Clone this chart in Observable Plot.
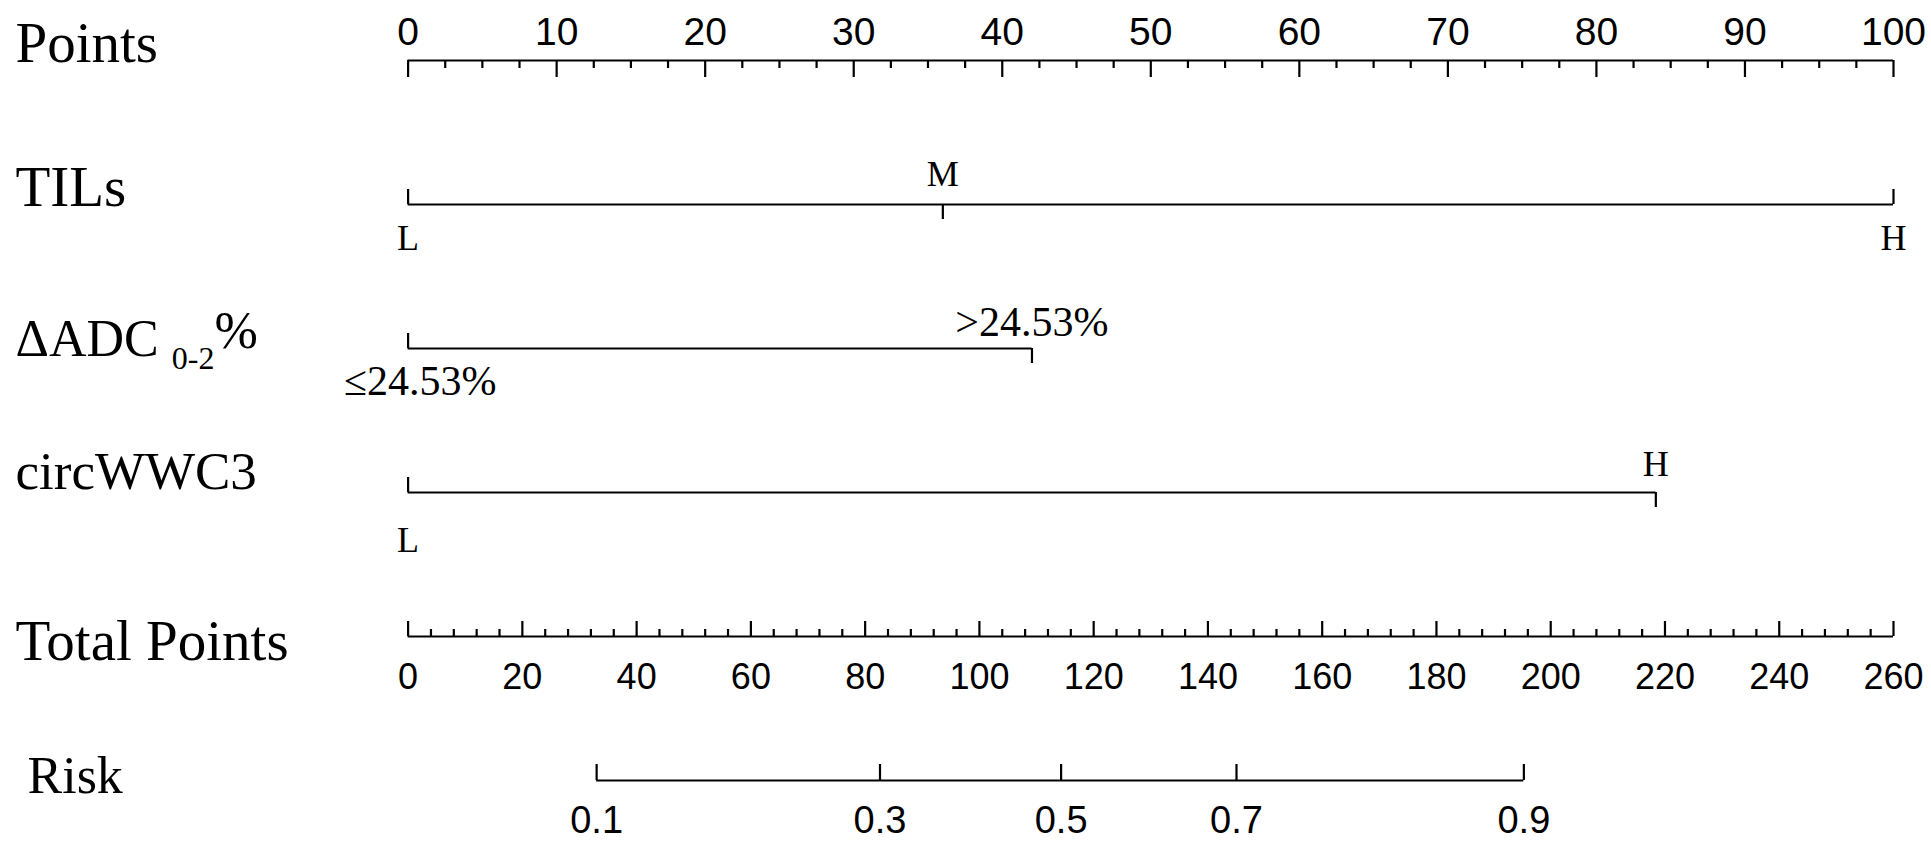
<!DOCTYPE html>
<html><head><meta charset="utf-8">
<script src="https://cdn.jsdelivr.net/npm/d3@7"></script>
<script src="https://cdn.jsdelivr.net/npm/@observablehq/plot@0.6"></script>
<style>html,body{margin:0;padding:0;background:#fff} #chart svg{display:block}</style>
</head><body><div id="chart"></div>
<script>
// ---- data ----
const rows = ["Points", "TILs", "ΔADC 0-2%", "circWWC3", "Total Points", "Risk"];
const pointsTicks = [0, 10, 20, 30, 40, 50, 60, 70, 80, 90, 100];
const pointsMinorStep = 2.5;
const tilsLevels = ["L", "M", "H"];
const tilsPoints = [0, 36, 100];
const adcLevels = ["≤24.53%", ">24.53%"];
const adcPoints = [0, 42];
const circLevels = ["L", "H"];
const circPoints = [0, 84];
const totalTicks = [0, 20, 40, 60, 80, 100, 120, 140, 160, 180, 200, 220, 240, 260];
const totalMinorStep = 4;
const totalMax = 260;
const riskLabels = ["0.1", "0.3", "0.5", "0.7", "0.9"];
const riskTotal = [33.0, 82.6, 114.3, 145, 195.3];

// ---- layout (styling only) ----
const rowLabelDy = {"Points": -17, "TILs": -17, "ΔADC 0-2%": -9, "circWWC3": -20, "Total Points": 5, "Risk": -4};
const rowLabelDx = {"Risk": 12};
const rowLabelSize = {"ΔADC 0-2%": 52, "circWWC3": 53, "Risk": 52};
const belowDy = {"TILs": 34, "ΔADC 0-2%": 33, "circWWC3": 48};
const aboveDy = {"TILs": -30, "ΔADC 0-2%": -26, "circWWC3": -28};
const levelFont = {"TILs": 36, "ΔADC 0-2%": 42, "circWWC3": 36};

// ---- derived tables ----
const variables = [
  {row: "TILs", levels: tilsLevels, points: tilsPoints},
  {row: "ΔADC 0-2%", levels: adcLevels, points: adcPoints},
  {row: "circWWC3", levels: circLevels, points: circPoints}
];
const levelRows = variables.flatMap(v => v.levels.map((label, i) => ({row: v.row, label, pts: v.points[i], i})));
const below = levelRows.filter(d => d.i % 2 === 0);
const above = levelRows.filter(d => d.i % 2 === 1);
const toPts = t => t * 100 / totalMax;
const pointsMinor = d3.range(0, 100 + 1e-9, pointsMinorStep).filter(v => !pointsTicks.includes(v));
const totalMinor = d3.range(0, totalMax + 1e-9, totalMinorStep).filter(v => !totalTicks.includes(v));
const risk = riskLabels.map((label, i) => ({label, t: riskTotal[i]}));

const serif = "Liberation Serif, Times New Roman, serif";
const sans = "Liberation Sans, Arial, sans-serif";
const sw = 2.2;
const k = "#000";

const levelText = (data, dyMap) => data.map(d => Plot.text([d], {
  x: "pts", y: "row", text: "label",
  dy: dyMap[d.row], dx: d.label.startsWith("≤") ? 12 : 0,
  fontFamily: serif, fontSize: levelFont[d.row], fill: k
}));

const rowLabels = rows.map(r => Plot.text([r], {
  y: d => d, text: d => d, frameAnchor: "left", textAnchor: "start",
  dx: rowLabelDx[r] || 0, dy: rowLabelDy[r],
  fontFamily: serif, fontSize: rowLabelSize[r] || 57, fill: k
}));

const chart = Plot.plot({
  width: 1931,
  height: 849,
  marginLeft: 15,
  marginRight: 0,
  marginTop: 0,
  marginBottom: 0,
  x: {domain: [0, 100], range: [407.6, 1893], axis: null},
  y: {type: "band", domain: rows, range: [59, 781], paddingInner: 1, paddingOuter: 0, axis: null},
  style: {background: "#fff", color: "#000"},
  marks: [
    // Points scale
    Plot.ruleY(["Points"], {y: d => d, x1: 0, x2: 100, stroke: k, strokeWidth: sw}),
    Plot.tickX(pointsTicks, {x: d => d, y: () => "Points", insetTop: 0, insetBottom: -17, stroke: k, strokeWidth: sw}),
    Plot.tickX(pointsMinor, {x: d => d, y: () => "Points", insetTop: 0, insetBottom: -8, stroke: k, strokeWidth: sw}),
    Plot.text(pointsTicks, {x: d => d, y: () => "Points", text: d => String(d), dy: -28, fontFamily: sans, fontSize: 39, fill: k}),

    // variable lines
    Plot.ruleY(variables, {y: "row", x1: 0, x2: d => d3.max(d.points), stroke: k, strokeWidth: sw}),
    Plot.tickX(below, {x: "pts", y: "row", insetTop: -15, insetBottom: 0, stroke: k, strokeWidth: sw}),
    Plot.tickX(above, {x: "pts", y: "row", insetTop: 0, insetBottom: -15, stroke: k, strokeWidth: sw}),
    ...levelText(below, belowDy),
    ...levelText(above, aboveDy),

    // Total points scale
    Plot.ruleY(["Total Points"], {y: d => d, x1: 0, x2: 100, stroke: k, strokeWidth: sw}),
    Plot.tickX(totalTicks, {x: d => toPts(d), y: () => "Total Points", insetTop: -15, insetBottom: 0, stroke: k, strokeWidth: sw}),
    Plot.tickX(totalMinor, {x: d => toPts(d), y: () => "Total Points", insetTop: -7, insetBottom: 0, stroke: k, strokeWidth: sw}),
    Plot.text(totalTicks, {x: d => toPts(d), y: () => "Total Points", text: d => String(d), dy: 41, fontFamily: sans, fontSize: 36, fill: k}),

    // Risk scale
    Plot.ruleY(["Risk"], {y: d => d, x1: toPts(d3.min(riskTotal)), x2: toPts(d3.max(riskTotal)), stroke: k, strokeWidth: sw}),
    Plot.tickX(risk, {x: d => toPts(d.t), y: () => "Risk", insetTop: -16, insetBottom: 0, stroke: k, strokeWidth: sw}),
    Plot.text(risk, {x: d => toPts(d.t), y: () => "Risk", text: "label", dy: 40, fontFamily: sans, fontSize: 38, fill: k}),

    // row labels
    ...rowLabels
  ]
});

// subscript for ΔADC 0-2%
d3.select(chart).selectAll("text").filter(function() { return this.textContent === "ΔADC 0-2%"; })
  .each(function() {
    const t = d3.select(this);
    t.text("");
    t.append("tspan").text("ΔADC ");
    t.append("tspan").attr("font-size", 32).attr("dy", "0.4em").text("0-2");
    t.append("tspan").attr("dy", "-0.4em").text("%");
  });
document.getElementById("chart").append(chart);
</script>
</body></html>
